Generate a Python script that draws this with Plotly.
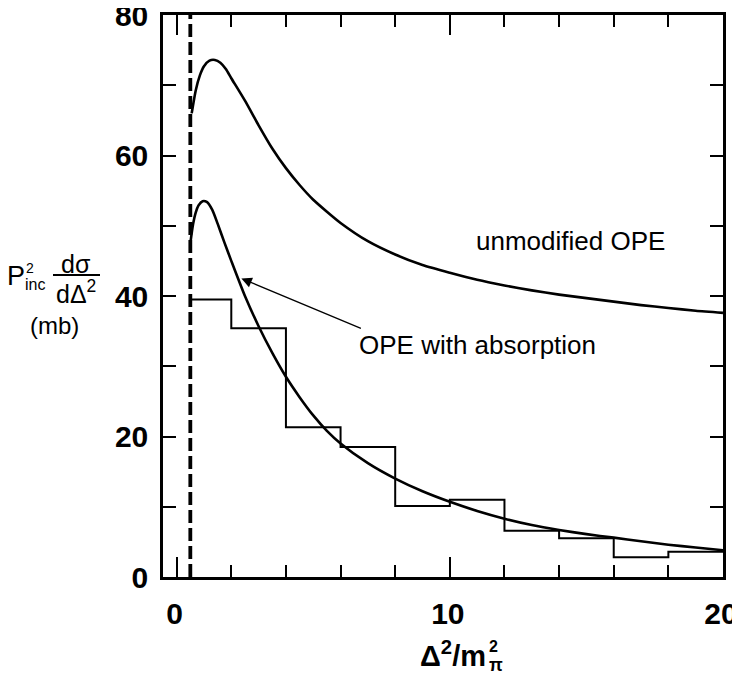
import plotly.graph_objects as go

# ---- data ----
ope_x = [0.55, 0.7, 0.85, 1.0, 1.2, 1.4, 1.6, 1.8, 2.0, 2.5, 3.0, 3.5, 4.0, 4.5, 5.0, 5.5, 6.0, 7.0, 8.0,
         9.0, 10, 11, 12, 13, 14, 15, 16, 17, 18, 19, 20]
ope_y = [66, 69.3, 71.4, 72.7, 73.5, 73.6, 73.2, 72.3, 71.0, 67.8, 64.3, 61.0, 58.2, 55.8, 53.7, 52.0, 50.4,
         47.8, 45.9, 44.4, 43.3, 42.3, 41.5, 40.8, 40.2, 39.7, 39.2, 38.7, 38.3, 37.9, 37.6]

abs_x = [0.5, 0.6, 0.7, 0.8, 0.95, 1.1, 1.3, 1.5, 1.75, 2.0, 2.5, 3.0, 3.5, 4.0, 4.5, 5.0, 5.5, 6.0, 7.0,
         8.0, 9.0, 10, 11, 12, 13, 14, 15, 16, 17, 18, 19, 20]
abs_y = [47.5, 50.2, 51.9, 52.9, 53.5, 53.4, 52.3, 50.3, 47.6, 45.0, 40.0, 35.7, 31.9, 28.5, 25.6, 23.0,
         20.8, 19.0, 16.2, 14.0, 12.2, 10.7, 9.4, 8.3, 7.4, 6.7, 6.1, 5.6, 5.1, 4.6, 4.2, 3.8]

hist_edges = [0.5, 2, 4, 6, 8, 10, 12, 14, 16, 18, 20]
hist_vals = [39.5, 35.4, 21.3, 18.5, 10.1, 11.0, 6.6, 5.5, 2.8, 3.6]

cut_x = 0.5
x_range = [-0.5, 20]
y_range = [0, 80]
x_ticks = [0, 10, 20]
y_ticks = [0, 20, 40, 60, 80]

# ---- figure ----
W, H = 740, 680
OFF = 8                      # page body margin of the browser
PL, PR, PT, PB = 163, 723, 15, 577   # wanted plot frame in page pixels
L, T = PL - OFF, PT - OFF
R, B = W - (PR - OFF), H - (PB - OFF)
PW, PH = PR - PL, PB - PT

def px(xp):
    return (xp - PL) / PW

def py(yp):
    return (PB - yp) / PH

FONT = "Liberation Sans"
fig = go.Figure()

fig.add_trace(go.Scatter(x=[cut_x, cut_x], y=y_range, mode="lines",
                         line=dict(color="black", width=3.8, dash="13px,5px"),
                         showlegend=False, hoverinfo="skip"))
fig.add_trace(go.Scatter(x=hist_edges, y=hist_vals + [hist_vals[-1]], mode="lines",
                         line=dict(color="black", width=2, shape="hv"),
                         showlegend=False))
fig.add_trace(go.Scatter(x=ope_x, y=ope_y, mode="lines", line=dict(color="black", width=2.6, shape="spline", smoothing=0.6),
                         showlegend=False))
fig.add_trace(go.Scatter(x=abs_x, y=abs_y, mode="lines", line=dict(color="black", width=2.6, shape="spline", smoothing=0.6),
                         showlegend=False))

axis_common = dict(showline=True, linecolor="black", linewidth=2.5, mirror="allticks",
                   ticks="inside", tickcolor="black", tickwidth=1.5, showgrid=False, zeroline=False,
                   ticklabeloverflow="allow", automargin=False,
                   tickfont=dict(family=FONT, size=30, color="black", weight="bold"))

fig.update_xaxes(range=x_range, tickvals=x_ticks, ticklen=20, ticklabelstandoff=8, ticklabelshift=-2,
                 minor=dict(dtick=2, tick0=0, ticks="inside", ticklen=12, tickcolor="black", tickwidth=1.5, showgrid=False),
                 **axis_common)
fig.update_yaxes(range=y_range, tickvals=y_ticks, ticklen=13, ticklabelstandoff=6,
                 minor=dict(dtick=10, tick0=0, ticks="inside", ticklen=13, tickcolor="black", tickwidth=1.5, showgrid=False),
                 **axis_common)

# curve labels
fig.add_annotation(x=14.4, y=47.8, text="unmodified OPE", showarrow=False,
                   font=dict(family=FONT, size=26, color="black"))
fig.add_annotation(x=6.6, y=33.0, text="OPE with absorption", showarrow=False, xanchor="left",
                   font=dict(family=FONT, size=26, color="black"))
fig.add_annotation(x=2.37, y=42.5, ax=6.8, ay=35.3, axref="x", ayref="y", text="", showarrow=True,
                   arrowhead=2, arrowsize=1.6, arrowwidth=1.3, arrowcolor="black")

# axis label pieces (positions in page pixels)
def lab(xp, yp, text, size, weight="normal", xanchor="center", family=FONT):
    fig.add_annotation(x=px(xp), y=py(yp), xref="paper", yref="paper", text=text, showarrow=False,
                       xanchor=xanchor, yanchor="middle", borderpad=0,
                       font=dict(family=family, size=size, color="black", weight=weight))

lab(16, 276, "P", 27)
lab(30, 268, "2", 14)
lab(35, 284, "inc", 16)
lab(76, 264, "dσ", 25)
lab(76, 292, "dΔ<sup>2</sup>", 25)
lab(54, 325, "(mb)", 24)
fig.add_shape(type="line", xref="paper", yref="paper", x0=px(53), x1=px(100), y0=py(275), y1=py(275),
              line=dict(color="black", width=2))

lab(487, 654, "Δ<sup>2</sup>/m", 29, "bold", "right")
lab(488, 646, "2", 16, "bold", "left")
lab(488, 665, "π", 18, "bold", "left")

fig.update_layout(width=W, height=H, margin=dict(l=L, r=R, t=T, b=B, autoexpand=False),
                  plot_bgcolor="white", paper_bgcolor="white")

fig.write_html("out.html")
